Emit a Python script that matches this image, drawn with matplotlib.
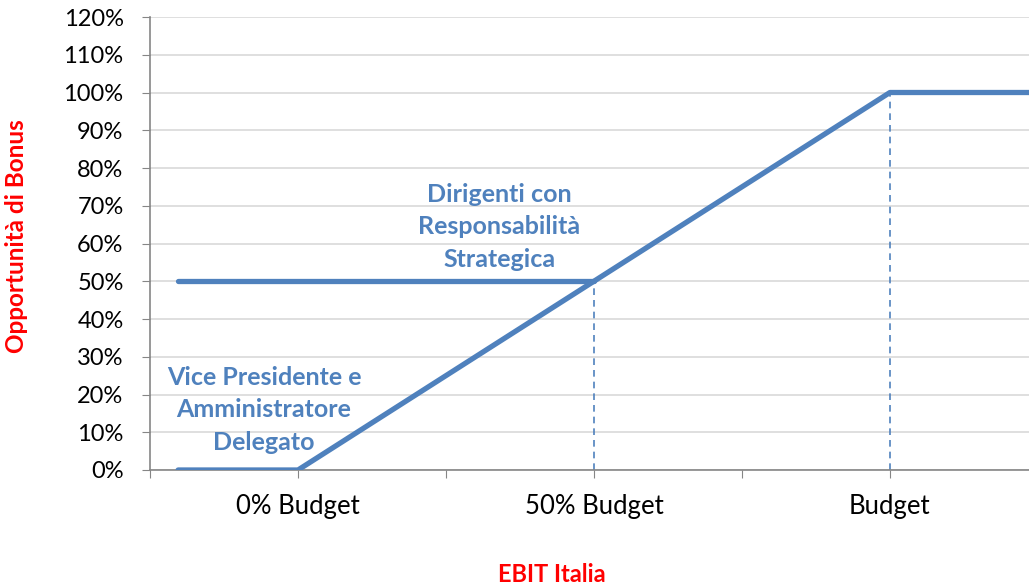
import matplotlib.pyplot as plt
import numpy as np

plt.rcParams['font.family'] = ['Lato', 'DejaVu Sans']

# EBIT position (category units) and bonus opportunity (%)
vp_x = [0.19, 1, 5, 5.95]
vp_y = [0, 0, 100, 100]
dir_x = [0.19, 3]
dir_y = [50, 50]
ref_x = [3, 5]
ref_y = [50, 100]
tick_pos = [0, 1, 2, 3, 4, 5]
tick_lab = ['', '0% Budget', '', '50% Budget', '', 'Budget']
y_ticks = np.arange(0, 121, 10)

blue = '#4F81BD'
red = '#FF0000'

fig = plt.figure(figsize=(10.29, 5.86), dpi=100)
ax = fig.add_axes([150/1029, 116/586, 1 - 150/1029, (470-17)/586])

ax.plot(vp_x, vp_y, color=blue, lw=3.8, solid_capstyle='round', zorder=3)
ax.plot(dir_x, dir_y, color=blue, lw=3.8, solid_capstyle='round', zorder=3)
for xv, yv in zip(ref_x, ref_y):
    ax.plot([xv, xv], [0, yv], color=blue, lw=1.2, ls=(0, (4, 3)), zorder=2)

ax.set_xlim(0, 5.94)
ax.set_ylim(0, 120)
ax.set_yticks(y_ticks)
ax.set_yticklabels([f'{v}%' for v in y_ticks], fontsize=17)
ax.set_xticks(tick_pos)
ax.set_xticklabels(tick_lab, fontsize=18.5)
ax.tick_params(axis='y', length=6, color='#868686', pad=13)
ax.tick_params(axis='x', length=6, color='#868686', pad=11)
ax.grid(axis='y', color='#D9D9D9', lw=1.2)
ax.set_axisbelow(True)
for s in ['top', 'right']:
    ax.spines[s].set_visible(False)
for s in ['left', 'bottom']:
    ax.spines[s].set_color('#868686')
    ax.spines[s].set_linewidth(1.2)

ax.text(2.36, 64.4, 'Dirigenti con\nResponsabilità\nStrategica', color=blue,
        fontsize=18, fontweight='bold', ha='center', va='center', linespacing=1.5)
ax.text(0.77, 15.9, 'Vice Presidente e\nAmministratore\nDelegato', color=blue,
        fontsize=18, fontweight='bold', ha='center', va='center', linespacing=1.5)

fig.text(552/1029, 1 - 574/586, 'EBIT Italia', color=red, fontsize=17,
         fontweight='bold', ha='center', va='center')
fig.text(17/1029, 1 - 236/586, 'Opportunità di Bonus', color=red, fontsize=17.5,
         fontweight='bold', ha='center', va='center', rotation=90)

fig.savefig('out.png', dpi=100)
